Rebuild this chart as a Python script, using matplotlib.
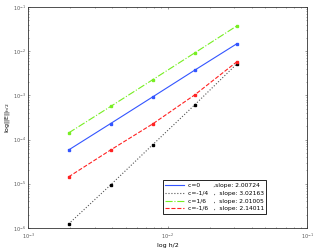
import numpy as np
import matplotlib.pyplot as plt

# mesh size h/2
h = [1/512, 1/256, 1/128, 1/64, 1/32]

# errors
err_c0 = [5.8e-5, 2.3e-4, 9.2e-4, 3.7e-3, 1.46e-2]
err_cm14 = [1.23e-6, 9.4e-6, 7.6e-5, 6.07e-4, 5.1e-3]
err_c16 = [1.41e-4, 5.6e-4, 2.25e-3, 9.1e-3, 3.7e-2]
err_cm16 = [1.43e-5, 5.8e-5, 2.25e-4, 1.02e-3, 5.7e-3]

labels = ["c=0       ,slope: 2.00724",
          "c=-1/4   ,  slope: 3.02163",
          "c=1/6    ,  slope: 2.01005",
          "c=-1/6   ,  slope: 2.14011"]

fig = plt.figure(figsize=(3.15, 2.48), dpi=100)
ax = fig.add_axes([0.089, 0.081, 0.886, 0.891])

series = [(err_c0, '-', '#3355ff', '#3355ff'),
          (err_cm14, ':', '#555555', 'k'),
          (err_c16, '-.', '#77ee22', '#77ee22'),
          (err_cm16, '--', '#ff2222', '#ff2222')]
for (err, ls, col, mcol), lab in zip(series, labels):
    ax.loglog(h, err, ls, color=col, lw=0.8, label=lab)
    ax.loglog(h, err, 's', color=mcol, ms=2)

ax.set_xlim(1e-3, 1e-1)
ax.set_ylim(1e-6, 1e-1)
ax.set_xlabel("log h/2", fontsize=4.5, labelpad=1)
ax.set_ylabel(r"log||E||$_{h/2}$", fontsize=4.5, labelpad=1)
ax.tick_params(labelsize=3.5, length=1.5, width=0.4, direction='in', which='both',
               top=True, right=True, pad=1.5, colors='#555555')
ax.tick_params(axis='x', pad=3)
ax.tick_params(which='minor', length=1)
for sp in ax.spines.values():
    sp.set_linewidth(0.6)
    sp.set_color('#333333')

leg = ax.legend(loc='lower right', bbox_to_anchor=(0.865, 0.05), fontsize=4.3,
                fancybox=False, edgecolor='k', framealpha=1, handlelength=3.2,
                handletextpad=0.6, borderpad=0.4, labelspacing=0.45)
leg.get_frame().set_linewidth(0.6)

fig.savefig("out.png", dpi=100)
